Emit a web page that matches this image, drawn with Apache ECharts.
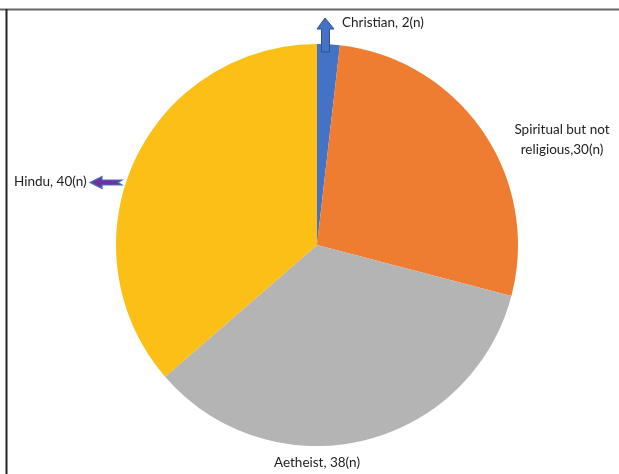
<!DOCTYPE html>
<html><head><meta charset="utf-8">
<script src="https://cdn.jsdelivr.net/npm/echarts@6/dist/echarts.min.js"></script>
<style>html,body{margin:0;padding:0;background:#fff}#c{width:619px;height:474px}</style>
</head><body><div id="c"></div>
<script>
const categories = ['Christian', 'Spiritual but not religious', 'Aetheist', 'Hindu'];
const values = [2, 30, 38, 40];
const labelTexts = ['Christian, 2(n)', 'Spiritual but not\nreligious,30(n)', 'Aetheist, 38(n)', 'Hindu, 40(n)'];
const colors = ['#4472c4', '#ee7d31', '#b3b4b3', '#fbbf16'];

const labelPos = {
  'Christian': {x: 342, y: 23, align: 'left'},
  'Spiritual but not religious': {x: 562, y: 140, align: 'center'},
  'Aetheist': {x: 317, y: 463, align: 'center'},
  'Hindu': {x: 14, y: 182, align: 'left'}
};

const chart = echarts.init(document.getElementById('c'));
chart.setOption({
  animation: false,
  backgroundColor: '#fff',
  graphic: [
    {type: 'line', shape: {x1: 0, y1: 9.5, x2: 619, y2: 9.5}, style: {stroke: '#666', lineWidth: 2}, z: 10},
    {type: 'line', shape: {x1: 6.5, y1: 9, x2: 6.5, y2: 474}, style: {stroke: '#222', lineWidth: 2}, z: 10},
    {type: 'polygon', z: 20, shape: {points: [[325,18],[334,29],[329.5,29],[329.5,52],[321.5,52],[321.5,29],[317,29]]},
      style: {fill: '#4472c4', stroke: '#2f528f', lineWidth: 1}},
    {type: 'polygon', z: 20, shape: {points: [[90,182.5],[102,176.5],[102,180],[122,180],[118,182.5],[122,185],[102,185],[102,188.5]]},
      style: {fill: '#7030a0', stroke: '#4472c4', lineWidth: 1.2}}
  ],
  series: [{
    type: 'pie',
    center: [317, 245],
    radius: 201,
    startAngle: 90,
    clockwise: true,
    avoidLabelOverlap: false,
    data: categories.map((n, i) => ({name: n, value: values[i], itemStyle: {color: colors[i]}})),
    label: {
      show: true,
      formatter: p => labelTexts[p.dataIndex],
      fontFamily: 'Lato',
      fontSize: 13.5,
      color: '#222',
      lineHeight: 20,
      overflow: 'none',
      width: 200
    },
    labelLine: {show: false},
    labelLayout: p => {
      const lp = labelPos[categories[p.dataIndex]];
      return {x: lp.x, y: lp.y, align: lp.align, verticalAlign: 'middle'};
    },
    emphasis: {disabled: true}
  }]
});
</script></body></html>
